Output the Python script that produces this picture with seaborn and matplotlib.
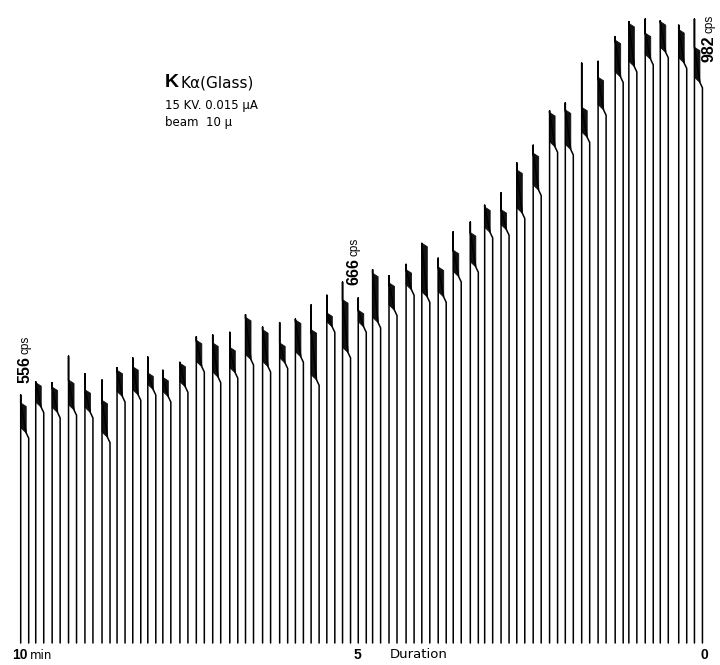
import matplotlib
matplotlib.use("Agg")
import matplotlib.pyplot as plt
import pandas as pd
import seaborn as sns

# Minutes remaining at the start of each recorder scan
scan_time = [10.00, 9.78, 9.54, 9.30, 9.06, 8.81, 8.59, 8.36, 8.14, 7.92,
             7.67, 7.43, 7.19, 6.94, 6.71, 6.46, 6.21, 5.98, 5.75, 5.52,
             5.29, 5.06, 4.85, 4.61, 4.36, 4.13, 3.89, 3.67, 3.42, 3.21,
             2.97, 2.74, 2.50, 2.26, 2.03, 1.79, 1.55, 1.30, 1.10, 0.86,
             0.64, 0.37, 0.14]
# Maximum count rate reached in each scan (cps)
peak_cps = [556, 571, 570, 600, 580, 573, 587, 598, 599, 584,
            593, 622, 624, 627, 647, 633, 638, 642, 658, 669,
            684, 666, 698, 691, 704, 726, 711, 741, 752, 771,
            785, 819, 839, 878, 887, 932, 934, 962, 979, 982,
            980, 975, 982]
# Upper and lower edge of the noisy plateau of each scan (cps)
band_hi = [547, 570, 565, 573, 562, 550, 584, 588, 581, 576,
           592, 618, 615, 610, 644, 630, 615, 641, 630, 649,
           664, 652, 694, 683, 698, 728, 701, 720, 740, 769,
           766, 811, 830, 876, 879, 882, 916, 958, 977, 966,
           979, 970, 950]
band_lo = [513, 542, 536, 539, 536, 508, 554, 556, 562, 554,
           565, 588, 576, 581, 596, 588, 592, 599, 573, 633,
           604, 633, 638, 652, 675, 667, 667, 690, 701, 740,
           743, 762, 788, 837, 834, 848, 879, 916, 928, 936,
           944, 932, 910]
baseline_cps = 275

# Scans carrying a count-rate annotation: index -> text
rate_labels = {0: "556", 21: "666", 42: "982"}

PX_PER_MIN = 68.33
BAND_W = 5.5 / PX_PER_MIN    # width of the dark plateau band
FALL_DX = 8 / PX_PER_MIN     # distance between rise and fall strokes

rows = []
for i, (t, top, hi, lo) in enumerate(zip(scan_time, peak_cps, band_hi, band_lo)):
    pts = [(t, baseline_cps), (t, top), (t, hi), (t - BAND_W, lo),
           (t - FALL_DX, lo - 6), (t - FALL_DX, baseline_cps)]
    for k, (x, y) in enumerate(pts):
        rows.append({"scan": i, "order": k, "t": x, "cps": y})
trace = pd.DataFrame(rows)

sns.set_style("white")
plt.rcParams["font.family"] = ["Liberation Sans", "DejaVu Sans"]
plt.rcParams["text.color"] = "black"

fig = plt.figure(figsize=(7.2, 6.65), dpi=100)
ax = fig.add_axes([0, 0, 1, 1])
sns.lineplot(data=trace, x="t", y="cps", units="scan", estimator=None,
             sort=False, color="black", lw=1.1, legend=False, ax=ax)

for t, hi, lo in zip(scan_time, band_hi, band_lo):
    ax.fill([t, t - BAND_W, t - BAND_W, t], [hi, hi - 4, lo, lo + 6],
            color="#111111", lw=0.6)

ax.set_xlim(10.303, -0.234)
ax.set_ylim(250.1, 1003.5)
ax.axis("off")

# count-rate annotations, number plus smaller unit, written upward
offsets = {0: (4, 12), 21: (-4, 13), 42: (15, -43)}
for i, txt in rate_labels.items():
    dx, dy = offsets[i]
    num = ax.annotate(txt, xy=(scan_time[i], peak_cps[i]), xytext=(dx, dy),
                      textcoords="offset pixels", rotation=90, ha="center",
                      va="bottom", fontsize=11.5, fontweight="bold")
    ax.annotate("cps", xy=(1, 1), xycoords=num, xytext=(-1, 2),
                textcoords="offset pixels", rotation=90, ha="right",
                va="bottom", fontsize=8.5)

# time axis annotations
ty = 250.1 + 10 * 1.133
ax.text(10.12, ty, "10", fontsize=10, fontweight="bold", ha="left", va="center")
ax.text(9.86, ty - 1, "min", fontsize=8.5, ha="left", va="center",
        family="DejaVu Sans")
ax.text(5.07, ty, "5", fontsize=10, fontweight="bold", ha="center", va="center")
ax.text(4.60, ty, "Duration", fontsize=9.5, ha="left", va="center",
        family="DejaVu Sans")
ax.text(0.0, ty, "0", fontsize=10, fontweight="bold", ha="center", va="center")

# measurement conditions
fig.text(165 / 720, 1 - 87 / 665, "K", fontsize=14, fontweight="bold", va="baseline")
fig.text(181 / 720, 1 - 87 / 665, "Kα(Glass)", fontsize=11, va="baseline",
         family="DejaVu Sans")
fig.text(165 / 720, 1 - 109 / 665, "15 KV. 0.015 μA", fontsize=8.5, va="baseline",
         family="DejaVu Sans")
fig.text(165 / 720, 1 - 126 / 665, "beam  10 μ", fontsize=8.5, va="baseline",
         family="DejaVu Sans")

fig.savefig("out.png", dpi=100, facecolor="white")
